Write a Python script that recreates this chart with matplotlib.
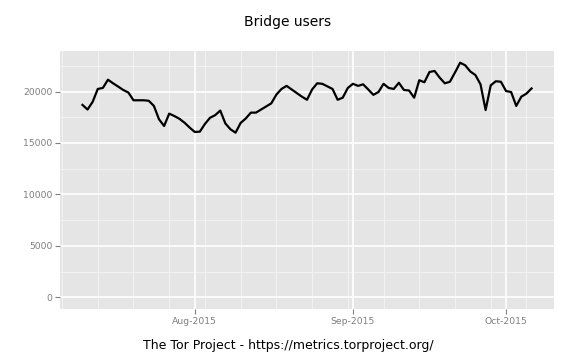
import matplotlib
matplotlib.use("Agg")
import matplotlib.pyplot as plt
import matplotlib.dates as mdates
import numpy as np
import pandas as pd

start_date = "2015-07-10"
users = [
    18700, 18250, 19000, 20250, 20350, 21150, 20800, 20480, 20150, 19900,
    19150, 19150, 19150, 19100, 18600, 17300, 16650, 17850, 17620, 17350,
    16970, 16500, 16070, 16100, 16850, 17450, 17700, 18150, 16900, 16330,
    16000, 16950, 17380, 17950, 17950, 18250, 18550, 18850, 19700, 20250,
    20550, 20200, 19850, 19500, 19200, 20200, 20800, 20750, 20500, 20250,
    19200, 19400, 20350, 20750, 20550, 20700, 20200, 19680, 19950, 20750,
    20350, 20250, 20850, 20150, 20100, 19400, 21100, 20900, 21900, 22000,
    21350, 20800, 20950, 21850, 22800, 22550, 21950, 21600, 20700, 18200,
    20600, 21000, 20950, 20050, 19950, 18600, 19500, 19800, 20300,
]
dates = pd.date_range(start_date, periods=len(users), freq="D")

title = "Bridge users"
caption = "The Tor Project - https://metrics.torproject.org/"
y_ticks = [0, 5000, 10000, 15000, 20000]
x_ticks = ["2015-08-01", "2015-09-01", "2015-10-01"]

fig = plt.figure(figsize=(5.76, 3.6), dpi=100)
ax = fig.add_axes([60/576, 1-309/360, (554-60)/576, (309-51)/360])

ax.set_facecolor("#E5E5E5")
for s in ax.spines.values():
    s.set_visible(False)

# limits with ggplot-like 5% expansion
x0 = mdates.date2num(dates[0]); x1 = mdates.date2num(dates[-1])
xpad = 0.05 * (x1 - x0)
ax.set_xlim(x0 - xpad, x1 + xpad)
ylo, yhi = 0, max(users)
ypad = 0.05 * (yhi - ylo)
ax.set_ylim(ylo - ypad, yhi + ypad)

# minor grid
mondays = pd.date_range("2015-07-06", "2015-10-12", freq="W-MON")
for d in mondays:
    ax.axvline(mdates.date2num(d), color="#F2F2F2", lw=0.7, zorder=0)
for v in [2500, 7500, 12500, 17500, 22500]:
    ax.axhline(v, color="#F2F2F2", lw=0.7, zorder=0)
# major grid
for d in x_ticks:
    ax.axvline(mdates.date2num(pd.Timestamp(d)), color="white", lw=1.2, zorder=0.5)
for v in y_ticks:
    ax.axhline(v, color="white", lw=1.2, zorder=0.5)

ax.plot(dates, users, color="black", lw=1.6, zorder=2)

ax.set_xticks([mdates.date2num(pd.Timestamp(d)) for d in x_ticks])
ax.set_xticklabels([pd.Timestamp(d).strftime("%b-%Y") for d in x_ticks])
ax.set_yticks(y_ticks)
ax.set_yticklabels([str(v) for v in y_ticks])
ax.tick_params(axis="both", colors="#7F7F7F", labelcolor="#7F7F7F",
               labelsize=6.7, length=3.5, width=0.8, pad=2)

fig.text(0.5, 1-22/360, title, ha="center", va="center", fontsize=10)
fig.text(0.5, 1-345/360, caption, ha="center", va="center", fontsize=9)

fig.savefig("out.png", dpi=100)
